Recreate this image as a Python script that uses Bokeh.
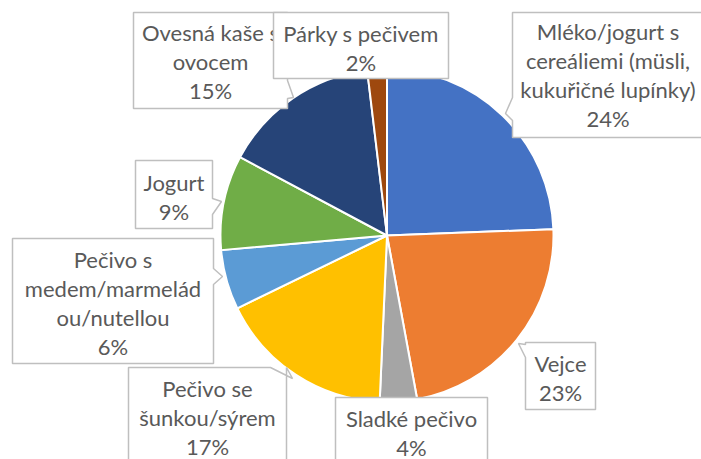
import math
from bokeh.plotting import figure
from bokeh.models import Range1d
from bokeh.core.properties import value
from bokeh.embed import file_html
from bokeh.resources import INLINE

# ---- data ----
categories = ["Mléko/jogurt s cereáliemi (müsli, kukuřičné lupínky)", "Vejce",
              "Sladké pečivo", "Pečivo se šunkou/sýrem",
              "Pečivo s medem/marmeládou/nutellou", "Jogurt",
              "Ovesná kaše s ovocem", "Párky s pečivem"]
shares = [24.4, 22.7, 3.6, 17.1, 5.8, 9.2, 15.3, 1.9]
pct_labels = ["24%", "23%", "4%", "17%", "6%", "9%", "15%", "2%"]
label_lines = [
    ["Mléko/jogurt s", "cereáliemi (müsli,", "kukuřičné lupínky)"],
    ["Vejce"],
    ["Sladké pečivo"],
    ["Pečivo se", "šunkou/sýrem"],
    ["Pečivo s", "medem/marmelád", "ou/nutellou"],
    ["Jogurt"],
    ["Ovesná kaše s", "ovocem"],
    ["Párky s pečivem"],
]
colors = ["#4472C4", "#ED7D31", "#A5A5A5", "#FFC000", "#5B9BD5", "#70AD47", "#264478", "#9E480E"]

# ---- layout (screen px; y measured downward) ----
W, H = 701, 459
CX, CY, R = 386.5, 235, 166.5
# box: left, top, right, bottom ; tail: (side, b1, b2, tipx, tipy) or None
boxes = [
    ((512, 12, 705, 137), ("left", 97, 120, 505, 113)),
    ((525, 342, 595, 409), ("left", 344, 357, 518, 343)),
    ((335, 397, 487, 472), None),
    ((128, 367, 286, 472), ("top", 270, 284, 292, 378)),
    ((12, 238, 213, 363), ("right", 268, 284, 222, 276)),
    ((135, 160, 212, 228), ("right", 198, 214, 221, 201)),
    ((133, 12, 287, 108), ("right", 80, 98, 293, 97)),
    ((273, 12, 448, 78), None),
]
text_mid = [74, 377, 432, 417, 302, 196, 61, 47]
LINE = 29

def Y(sy):
    return H - sy

p = figure(width=W, height=H, x_range=Range1d(0, W), y_range=Range1d(0, H),
           output_backend="svg", toolbar_location=None, min_border=0)
p.axis.visible = False
p.grid.visible = False
p.outline_line_color = None
p.background_fill_color = "white"

# pie
total = sum(shares)
cum = 0.0
starts, ends = [], []
for s in shares:
    starts.append(math.pi / 2 - 2 * math.pi * cum / total)
    cum += s
    ends.append(math.pi / 2 - 2 * math.pi * cum / total)
p.wedge(x=[CX] * len(shares), y=[Y(CY)] * len(shares), radius=R,
        start_angle=starts, end_angle=ends, direction="clock",
        fill_color=colors, line_color="white", line_width=2)

# callouts
for i in range(len(boxes)):
    (l, t, r, b), tail = boxes[i]
    if tail is None:
        pts = [(l, t), (r, t), (r, b), (l, b)]
    else:
        side, b1, b2, tx, ty = tail
        if side == "left":
            pts = [(l, t), (r, t), (r, b), (l, b), (l, b2), (tx, ty), (l, b1)]
        elif side == "right":
            pts = [(l, t), (r, t), (r, b1), (tx, ty), (r, b2), (r, b), (l, b)]
        else:  # top edge, near right corner
            pts = [(l, t), (b1, t), (tx, ty), (r, t), (r, b), (l, b)]
    xs = [q[0] for q in pts]
    ys = [Y(q[1]) for q in pts]
    p.patch(xs, ys, fill_color="white", line_color="#BFBFBF", line_width=1.5)
    lines = label_lines[i] + [pct_labels[i]]
    n = len(lines)
    mid = text_mid[i]
    tys = [mid + (k - (n - 1) / 2) * LINE for k in range(n)]
    cxt = (l + min(r, W + 2)) / 2
    p.text(x=[cxt] * n, y=[Y(v) for v in tys], text=lines,
           text_align="center", text_baseline="middle",
           text_font=value("Lato"), text_font_size="22px", text_color="#595959")

open("out.html", "w").write(file_html(p, INLINE))
